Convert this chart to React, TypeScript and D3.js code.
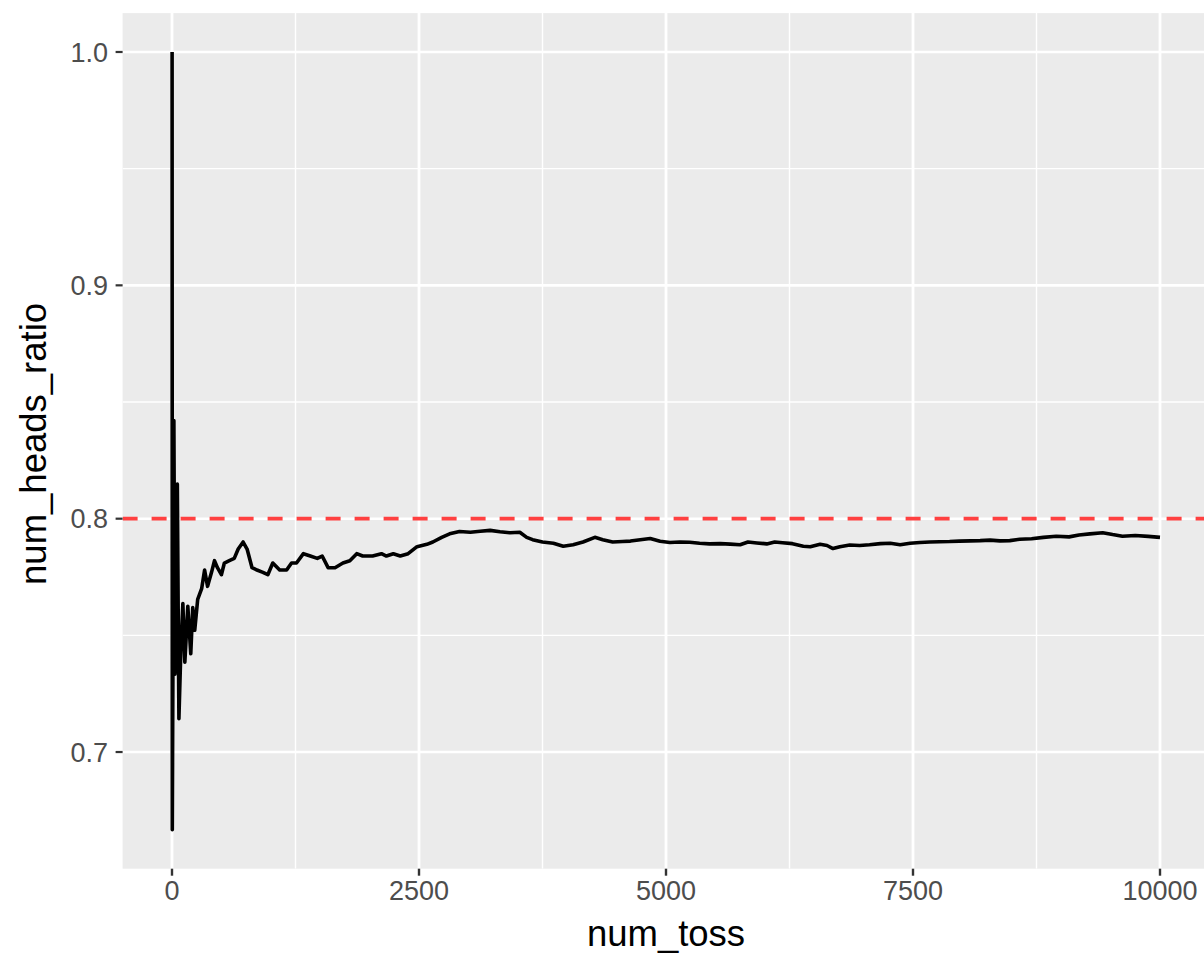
import React from "react";
import * as d3 from "d3";

const tossN: number[] = [
  1, 3, 19, 30, 54, 70, 90, 110, 130, 160, 190, 210, 230, 260, 300, 330, 360, 400, 430, 460,
  500, 530, 580, 630, 670, 720, 760, 810, 860, 920, 970, 1020, 1090, 1160, 1210, 1260, 1330,
  1400, 1470, 1520, 1580, 1650, 1730, 1800, 1870, 1930, 2030, 2120, 2170, 2240, 2310, 2390,
  2480, 2580, 2640, 2730, 2810, 2910, 3020, 3120, 3220, 3320, 3420, 3520, 3590, 3650, 3750,
  3860, 3960, 4060, 4160, 4280, 4360, 4460, 4560, 4640, 4740, 4840, 4940, 5040, 5140, 5240,
  5340, 5440, 5550, 5650, 5750, 5830, 5920, 6020, 6100, 6180, 6280, 6390, 6460, 6560, 6630,
  6690, 6760, 6860, 6960, 7060, 7170, 7270, 7370, 7470, 7570, 7670, 7770, 7870, 7970, 8080,
  8180, 8280, 8380, 8480, 8580, 8700, 8820, 8950, 9080, 9180, 9290, 9420, 9520, 9620, 9750,
  9880, 10000,
];

const headsRatio: number[] = [
  1.0, 0.6667, 0.8421, 0.7333, 0.8148, 0.7143, 0.7444, 0.7636, 0.7385, 0.7625, 0.7421, 0.7619,
  0.7522, 0.7654, 0.77, 0.778, 0.771, 0.777, 0.782, 0.779, 0.776, 0.781, 0.782, 0.783, 0.787,
  0.79, 0.787, 0.779, 0.778, 0.777, 0.776, 0.781, 0.778, 0.778, 0.781, 0.781, 0.785, 0.784,
  0.783, 0.784, 0.779, 0.779, 0.781, 0.782, 0.785, 0.784, 0.784, 0.785, 0.784, 0.785, 0.784,
  0.785, 0.788, 0.789, 0.79, 0.792, 0.7935, 0.7945, 0.7942, 0.7946, 0.795, 0.7944, 0.794,
  0.7942, 0.792, 0.791, 0.79, 0.7895, 0.7882, 0.7888, 0.79, 0.792, 0.791, 0.79, 0.7902, 0.7904,
  0.791, 0.7915, 0.7903, 0.7898, 0.79, 0.7899, 0.7895, 0.7892, 0.7893, 0.7891, 0.7888, 0.79,
  0.7896, 0.7892, 0.79, 0.7897, 0.7893, 0.7882, 0.788, 0.789, 0.7885, 0.7872, 0.788, 0.7887,
  0.7885, 0.7888, 0.7893, 0.7895, 0.7888, 0.7895, 0.7898, 0.79, 0.7901, 0.7902, 0.7904, 0.7905,
  0.7906, 0.7908, 0.7905, 0.7906, 0.7912, 0.7914, 0.792, 0.7925, 0.7922, 0.793, 0.7935, 0.794,
  0.7932, 0.7925, 0.7928, 0.7924, 0.792,
];

const xTicks: number[] = [0, 2500, 5000, 7500, 10000];
const xMinor: number[] = [1250, 3750, 6250, 8750];
const yTicks: number[] = [0.7, 0.8, 0.9, 1.0];
const yMinor: number[] = [0.75, 0.85, 0.95];
const refLine = 0.8;

const W = 1204;
const H = 956;
const panel = { left: 122.6, right: 1209.4, top: 13.1, bottom: 868.7 };

export default function App() {
  const x = d3.scaleLinear().domain([-500, 10500]).range([panel.left, panel.right]);
  const y = d3.scaleLinear().domain([0.65, 1.0166667]).range([panel.bottom, panel.top]);
  const data = tossN.map((n, i) => [n, headsRatio[i]] as [number, number]);
  const line = d3
    .line<[number, number]>()
    .x((d) => x(d[0]))
    .y((d) => y(d[1]));
  const font = "'Liberation Sans', Arial, Helvetica, sans-serif";
  const pw = panel.right - panel.left;
  const ph = panel.bottom - panel.top;
  const cy = (panel.top + panel.bottom) / 2;
  return (
    <svg
      width={W}
      height={H}
      style={{ position: "absolute", left: 0, top: 0, background: "#fff" }}
    >
      <defs>
        <clipPath id="pclip">
          <rect x={panel.left} y={panel.top} width={pw} height={ph} />
        </clipPath>
      </defs>
      <rect x={panel.left} y={panel.top} width={pw} height={ph} fill="#EBEBEB" />
      <g clipPath="url(#pclip)">
        {xMinor.map((t) => (
          <line key={"xm" + t} x1={x(t)} x2={x(t)} y1={panel.top} y2={panel.bottom} stroke="#fff" strokeWidth={1.4} />
        ))}
        {yMinor.map((t) => (
          <line key={"ym" + t} x1={panel.left} x2={panel.right} y1={y(t)} y2={y(t)} stroke="#fff" strokeWidth={1.3} />
        ))}
        {xTicks.map((t) => (
          <line key={"xM" + t} x1={x(t)} x2={x(t)} y1={panel.top} y2={panel.bottom} stroke="#fff" strokeWidth={2.8} />
        ))}
        {yTicks.map((t) => (
          <line key={"yM" + t} x1={panel.left} x2={panel.right} y1={y(t)} y2={y(t)} stroke="#fff" strokeWidth={2.6} />
        ))}
        <path d={line(data) || ""} fill="none" stroke="#000" strokeWidth={3.6} strokeLinejoin="round" />
        <line
          x1={panel.left}
          x2={panel.right}
          y1={y(refLine)}
          y2={y(refLine)}
          stroke="#FF4040"
          strokeWidth={3.8}
          strokeDasharray="15 14"
        />
      </g>
      {xTicks.map((t) => (
        <g key={"xt" + t}>
          <line x1={x(t)} x2={x(t)} y1={panel.bottom} y2={panel.bottom + 7} stroke="#333" strokeWidth={2.4} />
          <text x={x(t)} y={900} textAnchor="middle" fontFamily={font} fontSize={27} fill="#4D4D4D">
            {t}
          </text>
        </g>
      ))}
      {yTicks.map((t) => (
        <g key={"yt" + t}>
          <line x1={panel.left - 7} x2={panel.left} y1={y(t)} y2={y(t)} stroke="#333" strokeWidth={2.2} />
          <text x={108} y={y(t)} dy="0.36em" textAnchor="end" fontFamily={font} fontSize={27} fill="#4D4D4D">
            {t.toFixed(1)}
          </text>
        </g>
      ))}
      <text x={(panel.left + panel.right) / 2} y={946} textAnchor="middle" fontFamily={font} fontSize={36.5} fill="#000">
        num_toss
      </text>
      <text
        transform={`translate(46, ${cy + 3}) rotate(-90)`}
        textAnchor="middle"
        fontFamily={font}
        fontSize={36.5}
        fill="#000"
      >
        num_heads_ratio
      </text>
    </svg>
  );
}
